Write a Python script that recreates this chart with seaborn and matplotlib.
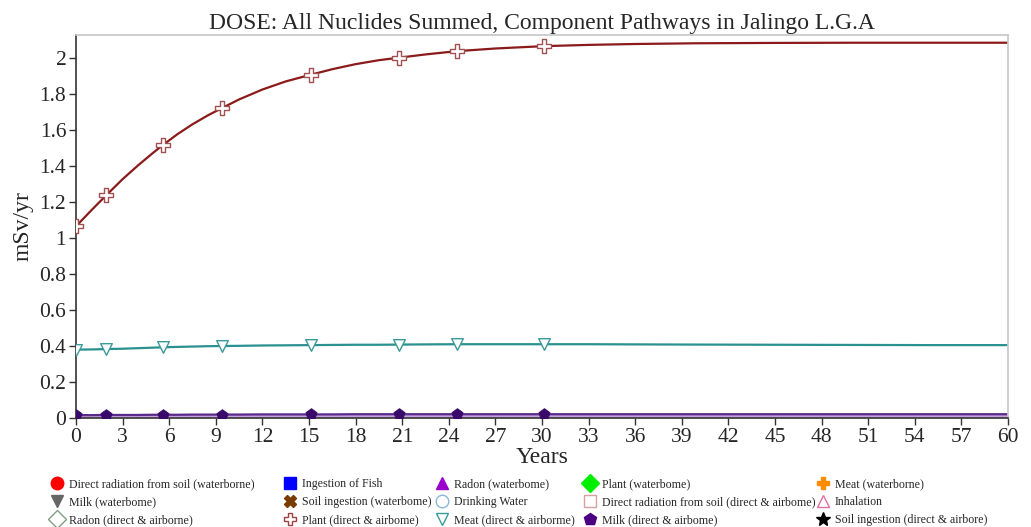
import matplotlib
matplotlib.use("Agg")
import matplotlib.pyplot as plt
from matplotlib.lines import Line2D
import seaborn as sns
import pandas as pd

sns.set_theme(style="white")
plt.rcParams['font.family'] = ['Liberation Serif', 'DejaVu Serif']

# ---- data ----
line_years = [0, 1, 1.94, 3, 4, 5, 5.6, 6.5, 7.5, 8.5, 9.4, 10.5, 12, 13.5, 15.1, 16.5, 18, 19.5,
              20.8, 22.5, 24.5, 27, 30.1, 33, 36, 40, 45, 50, 55, 60]
plant_line = [1.065, 1.155, 1.237, 1.327, 1.404, 1.476, 1.517, 1.575, 1.632, 1.682, 1.722, 1.77, 1.825, 1.87, 1.907,
              1.938, 1.966, 1.988, 2.002, 2.02, 2.038, 2.053, 2.066, 2.073, 2.078, 2.082, 2.084, 2.085, 2.085, 2.085]
meat_line = [0.38, 0.381, 0.383, 0.385, 0.388, 0.391, 0.393, 0.395, 0.397, 0.399, 0.40, 0.401, 0.403, 0.404, 0.405,
             0.406, 0.407, 0.407, 0.408, 0.409, 0.41, 0.41, 0.41, 0.41, 0.409, 0.408, 0.407, 0.406, 0.405, 0.405]
milk_line = [0.016, 0.016, 0.017, 0.017, 0.017, 0.018, 0.018, 0.018, 0.019, 0.019, 0.019, 0.019, 0.02, 0.02, 0.02,
             0.02, 0.021, 0.021, 0.021, 0.021, 0.021, 0.021, 0.021, 0.021, 0.021, 0.021, 0.021, 0.021, 0.021, 0.021]
soil_line = [0.008, 0.008, 0.008, 0.008, 0.009, 0.009, 0.009, 0.009, 0.009, 0.009, 0.009, 0.01, 0.01, 0.01, 0.01,
             0.01, 0.01, 0.01, 0.01, 0.01, 0.01, 0.01, 0.01, 0.01, 0.01, 0.01, 0.01, 0.01, 0.01, 0.01]

marker_years = [0, 1.94, 5.6, 9.4, 15.1, 20.8, 24.5, 30.1]
plant_marks = [1.065, 1.237, 1.517, 1.722, 1.907, 2.002, 2.038, 2.066]
meat_marks = [0.38, 0.383, 0.393, 0.40, 0.405, 0.408, 0.41, 0.41]
milk_marks = [0.016, 0.017, 0.018, 0.019, 0.02, 0.021, 0.021, 0.021]

x_ticks = list(range(0, 61, 3))
y_ticks = [0, 0.2, 0.4, 0.6, 0.8, 1, 1.2, 1.4, 1.6, 1.8, 2]
y_labels = ["0", "0.2", "0.4", "0.6", "0.8", "1", "1.2", "1.4", "1.6", "1.8", "2"]

legend_labels = [
    "Direct radiation from soil (waterborne)", "Ingestion of Fish", "Radon (waterbome)", "Plant (waterbome)", "Meat (waterborne)",
    "Milk (waterbome)", "Soil ingestion (waterbome)", "Drinking Water", "Direct radiation from soil (direct & airbome)", "Inhalation",
    "Radon (direct & airborne)", "Plant (direct & airbome)", "Meat (direct & airborme)", "Milk (direct & airbome)", "Soil ingestion (direct & airbore)",
]
# (marker, face, edge)
legend_styles = [
    ("o", "#ff0000", "#ff0000"), ("s", "#0000ff", "#0000ff"), ("^", "#9900cc", "#9900cc"), ("D", "#00ee00", "#00ee00"), ("P", "#ff8c00", "#ff8c00"),
    ("v", "#666666", "#666666"), ("X", "#7a3b00", "#7a3b00"), ("o", "none", "#8ab8d8"), ("s", "none", "#d8a0a0"), ("^", "none", "#e070a0"),
    ("D", "none", "#80a080"), ("P", "none", "#a04040"), ("v", "none", "#3a9a9a"), ("p", "#4b0082", "#4b0082"), ("*", "#000000", "#000000"),
]

fig = plt.figure(figsize=(10.31, 5.27), dpi=100)
ax = fig.add_axes([0.0737, 0.2068, 0.904, 0.7268])

df = pd.DataFrame({"yr": line_years, "plant": plant_line, "meat": meat_line, "milk": milk_line, "soil": soil_line})
sns.lineplot(data=df, x="yr", y="soil", ax=ax, color="#c8a0e0", lw=3.5)
sns.lineplot(data=df, x="yr", y="milk", ax=ax, color="#5a2a8a", lw=1.6)
sns.lineplot(data=df, x="yr", y="meat", ax=ax, color="#2a9090", lw=1.6)
sns.lineplot(data=df, x="yr", y="plant", ax=ax, color="#8b1a1a", lw=1.6)

dm = pd.DataFrame({"yr": marker_years, "plant": plant_marks, "meat": meat_marks, "milk": milk_marks})
sns.scatterplot(data=dm, x="yr", y="milk", ax=ax, marker="p", s=70, color="#3a0a6a", edgecolor="#3a0a6a", zorder=5)
sns.scatterplot(data=dm, x="yr", y="meat", ax=ax, marker="v", s=70, facecolor="white", edgecolor="#3a9a9a", linewidth=1.0, zorder=5)
sns.scatterplot(data=dm, x="yr", y="plant", ax=ax, marker="P", s=100, facecolor="white", edgecolor="#a05050", linewidth=1.0, zorder=5)

ax.set_xlim(0, 60)
ax.set_ylim(0, 2.128)
ax.set_xticks(x_ticks)
ax.set_yticks(y_ticks)
ax.set_yticklabels(y_labels)
ax.tick_params(axis="both", labelsize=15.5, length=5, width=1, direction="out", color="#333333", pad=2)
ax.tick_params(axis="x", bottom=True)
ax.tick_params(axis="y", left=True)
for s in ["top", "right"]:
    ax.spines[s].set_color("#c8c8c8")
for s in ["left", "bottom"]:
    ax.spines[s].set_color("#333333")
    ax.spines[s].set_linewidth(1.2)
ax.set_xlabel("Years", fontsize=17, labelpad=0)
ax.set_ylabel("mSv/yr", fontsize=17, labelpad=4)
ax.set_title("DOSE: All Nuclides Summed, Component Pathways in Jalingo L.G.A", fontsize=17, pad=4)

handles = []
for m, fc, ec in legend_styles:
    handles.append(Line2D([], [], linestyle="none", marker=m, markersize=9 if m != "*" else 10.5,
                          markerfacecolor=fc, markeredgecolor=ec, markeredgewidth=1.0))

# one legend per column, placed at the reference column positions (marker centre, px)
ncol, nrow = 5, 3
col_marker_px = [57, 290, 442, 590, 823]
W, H = 1031, 527
for c in range(ncol):
    idx = [r * ncol + c for r in range(nrow)]
    lg = fig.legend([handles[i] for i in idx], [legend_labels[i] for i in idx],
                    loc="center left", bbox_to_anchor=((col_marker_px[c] - 7.5) / W, 1 - 502 / H),
                    frameon=False, fontsize=8.6, handletextpad=0.35, labelspacing=0.5,
                    handlelength=1.25, borderpad=0, borderaxespad=0)

fig.savefig("out.png", dpi=100)
